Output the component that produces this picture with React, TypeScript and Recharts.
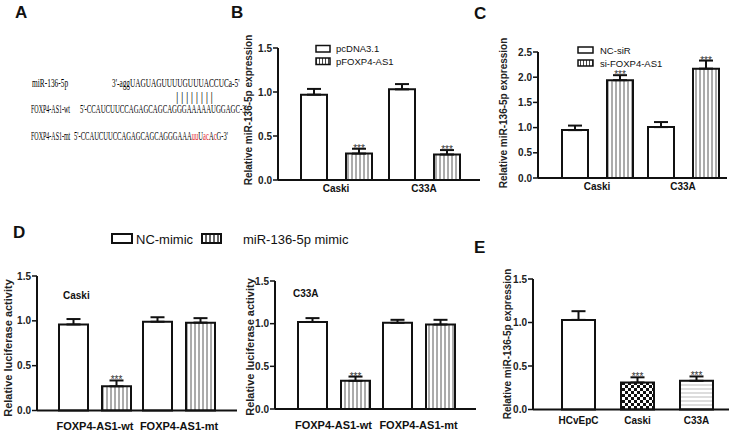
import React from 'react';
import { BarChart, Bar, XAxis, YAxis, ErrorBar, LabelList, Cell } from 'recharts';

// ---------------- data ----------------
const bcCategories = ['Caski', 'C33A'];
const bPcDNA = [0.97, 1.03];
const bPcDNAErr = [0.065, 0.06];
const bPFOXP4 = [0.3, 0.29];
const bPFOXP4Err = [0.055, 0.05];
const bSig = [true, true];

const cNCsiR = [0.95, 1.01];
const cNCsiRErr = [0.09, 0.1];
const cSiFOXP4 = [1.94, 2.17];
const cSiFOXP4Err = [0.1, 0.16];
const cSig = [true, true];

const dCategories = ['FOXP4-AS1-wt', 'FOXP4-AS1-mt'];
const dCaskiNC = [0.96, 0.99];
const dCaskiNCErr = [0.06, 0.05];
const dCaskiMimic = [0.27, 0.98];
const dCaskiMimicErr = [0.065, 0.05];
const dC33aNC = [1.02, 1.01];
const dC33aNCErr = [0.045, 0.035];
const dC33aMimic = [0.33, 0.99];
const dC33aMimicErr = [0.05, 0.055];
const dSig = [true, false];

const eCategories = ['HCvEpC', 'Caski', 'C33A'];
const eValues = [1.03, 0.31, 0.33];
const eErr = [0.1, 0.06, 0.05];
const eSig = [false, true, true];

const ticks15 = [0, 0.5, 1, 1.5];
const ticks25 = [0, 0.5, 1, 1.5, 2, 2.5];

const SANS = "'Liberation Sans', Arial, sans-serif";
const SERIF = "'Liberation Serif', 'Times New Roman', serif";

const groupRows = (cats: string[], a: number[], aErr: number[], b: number[], bErr: number[]) =>
  cats.map((cat, i) => ({ cat, a: a[i], aErr: [0, aErr[i]], b: b[i], bErr: [0, bErr[i]] }));

const bData = groupRows(bcCategories, bPcDNA, bPcDNAErr, bPFOXP4, bPFOXP4Err);
const cData = groupRows(bcCategories, cNCsiR, cNCsiRErr, cSiFOXP4, cSiFOXP4Err);
const dCaskiData = groupRows(dCategories, dCaskiNC, dCaskiNCErr, dCaskiMimic, dCaskiMimicErr);
const dC33aData = groupRows(dCategories, dC33aNC, dC33aNCErr, dC33aMimic, dC33aMimicErr);
const eData = eCategories.map((cat, i) => ({ cat, a: eValues[i], aErr: [0, eErr[i]] }));

type Geom = { x0: number; x1: number; y0: number; y1: number };
type Series = { key: string; errKey: string; fill: string; errs: number[]; sig?: boolean[]; cellFills?: string[] };

const starLabel = (errs: number[], sig: boolean[], pxPerUnit: number) => (props: any) => {
  const vb = props.viewBox || {};
  const x = props.x ?? vb.x;
  const y = props.y ?? vb.y;
  const w = props.width ?? vb.width;
  const i = props.index;
  if (i == null || !sig[i]) return null;
  const capY = y - errs[i] * pxPerUnit;
  return (
    <text x={x + w / 2} y={capY + 3} textAnchor="middle" fontSize={10} fill="#333" fontFamily={SANS}>
      ***
    </text>
  );
};

function Panel(props: {
  id: string;
  g: Geom;
  data: any[];
  max: number;
  ticks: number[];
  series: Series[];
  barSize: number;
  barGap: number;
  pad: { left: number; right: number };
  catSize: number;
  catMargin: number;
}) {
  const { id, g, data, max, ticks, series, barSize, barGap, pad, catSize, catMargin } = props;
  const YW = 40, XH = 30, MT = 8, MR = 8;
  const pxPerUnit = (g.y1 - g.y0) / max;
  return (
    <div style={{ position: 'absolute', left: g.x0 - YW, top: g.y0 - MT }}>
      <BarChart
        width={YW + (g.x1 - g.x0) + MR}
        height={MT + (g.y1 - g.y0) + XH}
        data={data}
        margin={{ top: MT, right: MR, bottom: 0, left: 0 }}
        barGap={barGap}
        barSize={barSize}
      >
        <defs>
          <pattern id={`${id}-v`} width={4} height={4} patternUnits="userSpaceOnUse">
            <rect width={4} height={4} fill="#fff" />
            <line x1={2} y1={0} x2={2} y2={4} stroke="#444" strokeWidth={0.9} />
          </pattern>
          <pattern id={`${id}-chk`} width={6} height={6} patternUnits="userSpaceOnUse">
            <rect width={6} height={6} fill="#fff" />
            <rect width={3} height={3} fill="#111" />
            <rect x={3} y={3} width={3} height={3} fill="#111" />
          </pattern>
          <pattern id={`${id}-h`} width={4} height={4} patternUnits="userSpaceOnUse">
            <rect width={4} height={4} fill="#fff" />
            <line x1={0} y1={2} x2={4} y2={2} stroke="#aaa" strokeWidth={0.8} />
          </pattern>
        </defs>
        <XAxis
          dataKey="cat"
          height={XH}
          interval={0}
          padding={pad}
          tickLine={false}
          tickSize={0}
          tickMargin={catMargin}
          axisLine={{ stroke: '#111', strokeWidth: 2 }}
          tick={{ fill: '#111', fontSize: catSize, fontWeight: 700, fontFamily: SANS }}
        />
        <YAxis
          width={YW}
          domain={[0, max]}
          ticks={ticks}
          interval={0}
          tickFormatter={(v: number) => v.toFixed(1)}
          axisLine={{ stroke: '#111', strokeWidth: 2 }}
          tickLine={{ stroke: '#111', strokeWidth: 1.5 }}
          tickSize={5}
          tickMargin={1}
          tick={{ fill: '#222', fontSize: 10, fontWeight: 700, fontFamily: SANS }}
        />
        {series.map((s) => (
          <Bar
            key={s.key}
            dataKey={s.key}
            fill={s.fill.replace('ID', id)}
            stroke="#111"
            strokeWidth={2}
            isAnimationActive={false}
          >
            {s.cellFills
              ? s.cellFills.map((f, i) => <Cell key={i} fill={f.replace('ID', id)} />)
              : null}
            <ErrorBar dataKey={s.errKey} direction="y" width={7} stroke="#111" strokeWidth={2} />
            {s.sig ? <LabelList dataKey={s.key} content={starLabel(s.errs, s.sig, pxPerUnit)} /> : null}
          </Bar>
        ))}
      </BarChart>
    </div>
  );
}

const rot = (cx: number, cy: number, size: number, txt: string) => (
  <text
    x={cx}
    y={cy}
    transform={`rotate(-90 ${cx} ${cy})`}
    textAnchor="middle"
    dominantBaseline="central"
    fontSize={size}
    fontWeight={700}
    fill="#222"
    fontFamily={SANS}
  >
    {txt}
  </text>
);

// condensed serif text placed with a horizontal scale
const SEQ_FS = 11.5;
const seq = (x: number, y: number, sx10: number, content: React.ReactNode) => (
  <text
    x={0}
    y={0}
    transform={`translate(${x} ${y}) scale(${(sx10 * 10) / SEQ_FS} 1)`}
    fontFamily={SERIF}
    fontSize={SEQ_FS}
    fill="#000"
  >
    {content}
  </text>
);

export default function App() {
  const noSig = [false, false];
  const red = '#e3231f';
  return (
    <div style={{ position: 'absolute', left: 0, top: 0, width: 753, height: 432, background: '#fff', overflow: 'hidden' }}>
      <Panel
        id="pb"
        g={{ x0: 278, x1: 480, y0: 48, y1: 180 }}
        data={bData}
        max={1.5}
        ticks={ticks15}
        barSize={26}
        barGap={19}
        pad={{ left: 14, right: 12 }}
        catSize={10}
        catMargin={5}
        series={[
          { key: 'a', errKey: 'aErr', fill: '#fff', errs: bPcDNAErr, sig: noSig },
          { key: 'b', errKey: 'bErr', fill: 'url(#ID-v)', errs: bPFOXP4Err, sig: bSig },
        ]}
      />
      <Panel
        id="pc"
        g={{ x0: 538, x1: 727, y0: 51.5, y1: 177.5 }}
        data={cData}
        max={2.5}
        ticks={ticks25}
        barSize={26}
        barGap={19}
        pad={{ left: 16, right: 1 }}
        catSize={10}
        catMargin={5}
        series={[
          { key: 'a', errKey: 'aErr', fill: '#fff', errs: cNCsiRErr, sig: noSig },
          { key: 'b', errKey: 'bErr', fill: 'url(#ID-v)', errs: cSiFOXP4Err, sig: cSig },
        ]}
      />
      <Panel
        id="pd1"
        g={{ x0: 37, x1: 237, y0: 275.5, y1: 410 }}
        data={dCaskiData}
        max={1.5}
        ticks={ticks15}
        barSize={29}
        barGap={14}
        pad={{ left: 16, right: 16 }}
        catSize={11}
        catMargin={12}
        series={[
          { key: 'a', errKey: 'aErr', fill: '#fff', errs: dCaskiNCErr, sig: noSig },
          { key: 'b', errKey: 'bErr', fill: 'url(#ID-v)', errs: dCaskiMimicErr, sig: dSig },
        ]}
      />
      <Panel
        id="pd2"
        g={{ x0: 275, x1: 476, y0: 281, y1: 409 }}
        data={dC33aData}
        max={1.5}
        ticks={ticks15}
        barSize={29}
        barGap={14}
        pad={{ left: 16, right: 15 }}
        catSize={11}
        catMargin={12}
        series={[
          { key: 'a', errKey: 'aErr', fill: '#fff', errs: dC33aNCErr, sig: noSig },
          { key: 'b', errKey: 'bErr', fill: 'url(#ID-v)', errs: dC33aMimicErr, sig: dSig },
        ]}
      />
      <Panel
        id="pe"
        g={{ x0: 533, x1: 729, y0: 279, y1: 409.5 }}
        data={eData}
        max={1.5}
        ticks={ticks15}
        barSize={33}
        barGap={0}
        pad={{ left: 16, right: 3 }}
        catSize={10}
        catMargin={7}
        series={[
          {
            key: 'a',
            errKey: 'aErr',
            fill: '#fff',
            errs: eErr,
            sig: eSig,
            cellFills: ['#fff', 'url(#ID-chk)', 'url(#ID-h)'],
          },
        ]}
      />

      <svg
        width={753}
        height={432}
        style={{ position: 'absolute', left: 0, top: 0, pointerEvents: 'none' }}
      >
        <defs>
          <pattern id="ov-v" width={3} height={3} patternUnits="userSpaceOnUse">
            <rect width={3} height={3} fill="#fff" />
            <line x1={1.5} y1={0} x2={1.5} y2={3} stroke="#333" strokeWidth={0.9} />
          </pattern>
          <pattern id="ov-vd" width={4} height={4} patternUnits="userSpaceOnUse">
            <rect width={4} height={4} fill="#fff" />
            <line x1={2} y1={0} x2={2} y2={4} stroke="#111" strokeWidth={1.3} />
          </pattern>
        </defs>

        {/* panel letters */}
        <g fontFamily={SANS} fontWeight={700} fontSize={17} fill="#111">
          <text x={15} y={18}>A</text>
          <text x={231} y={18}>B</text>
          <text x={474} y={19}>C</text>
          <text x={13} y={238}>D</text>
          <text x={474} y={253}>E</text>
        </g>

        {/* panel A sequences */}
        {seq(32, 87, 0.74, 'miR-136-5p')}
        {seq(112, 87, 0.73, "3'-aggUAGUAGUUUUGUUUACCUCa-5'")}
        <text x={176} y={101} fontFamily={SERIF} fontSize={12} fill="#000" textLength={37} lengthAdjust="spacing">
          ||||||||
        </text>
        {seq(31, 113, 0.6, 'FOXP4-AS1-wt')}
        {seq(80, 113, 0.676, "5'-CCAUCUUCCAGAGCAGCAGGGAAAAAUGGAGC-3'")}
        {seq(31, 140, 0.6, 'FOXP4-AS1-mt')}
        {seq(
          74,
          140,
          0.656,
          <>
            5'-CCAUCUUCCAGAGCAGCAGGGAAA<tspan fill={red}>uu</tspan>U<tspan fill={red}>ac</tspan>A
            <tspan fill={red}>c</tspan>G-3'
          </>
        )}

        {/* axis titles */}
        {rot(248, 110, 10, 'Relative miR-136-5p expression')}
        {rot(503, 113, 10, 'Relative miR-136-5p expression')}
        {rot(8, 348, 11, 'Relative luciferase activity')}
        {rot(250, 347, 11, 'Relative luciferase activity')}
        {rot(507, 344, 10, 'Relative miR-136-5p expression')}

        {/* inner labels */}
        <g fontFamily={SANS} fontWeight={700} fontSize={10} fill="#111">
          <text x={63} y={299}>Caski</text>
          <text x={293} y={297}>C33A</text>
        </g>

        {/* legend B */}
        <g fontFamily={SANS} fontSize={9.5} fill="#111">
          <rect x={316} y={45.5} width={14} height={6.5} fill="#fff" stroke="#111" strokeWidth={1.5} />
          <text x={336} y={52}>pcDNA3.1</text>
          <rect x={316} y={58} width={14} height={6.5} fill="url(#ov-v)" stroke="#111" strokeWidth={1.5} />
          <text x={336} y={65}>pFOXP4-AS1</text>
        </g>
        {/* legend C */}
        <g fontFamily={SANS} fontSize={9.5} fill="#111">
          <rect x={578} y={47} width={15} height={6} fill="#fff" stroke="#111" strokeWidth={1.5} />
          <text x={600} y={54}>NC-siR</text>
          <rect x={578} y={60} width={15} height={6} fill="url(#ov-v)" stroke="#111" strokeWidth={1.5} />
          <text x={600} y={67}>si-FOXP4-AS1</text>
        </g>
        {/* legend D */}
        <g fontFamily={SANS} fontSize={13} fill="#111">
          <rect x={112} y={234} width={20} height={9} fill="#fff" stroke="#111" strokeWidth={2} />
          <text x={136} y={244}>NC-mimic</text>
          <rect x={202} y={234} width={19} height={9} fill="url(#ov-vd)" stroke="#111" strokeWidth={2} />
          <text x={243} y={244}>miR-136-5p mimic</text>
        </g>
      </svg>
    </div>
  );
}
